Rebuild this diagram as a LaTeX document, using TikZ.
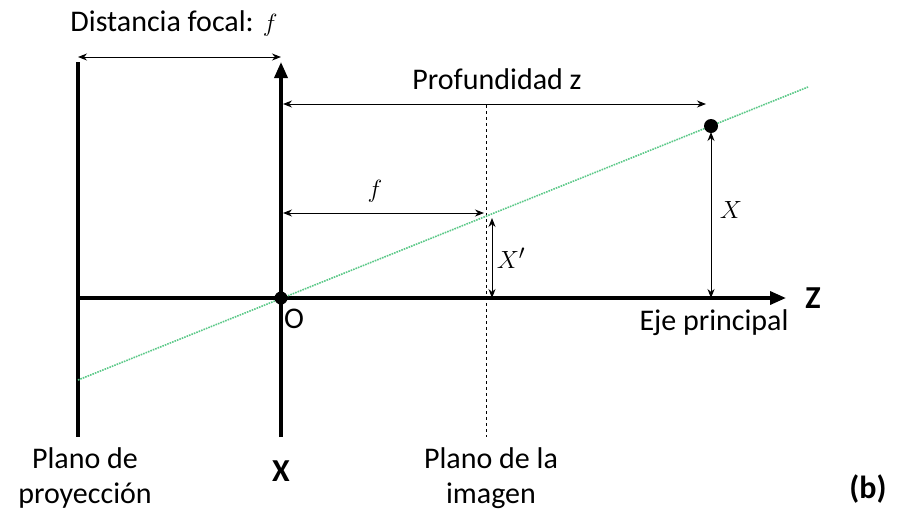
\documentclass[tikz,border=0pt]{standalone}
\usepackage{fontspec}
\setmainfont{Carlito}
\usetikzlibrary{arrows.meta,positioning,calc}
\definecolor{raygreen}{RGB}{90,200,135}

\tikzset{
    axis/.style={line width=3.5pt},
    dim/.style={{Stealth[length=9pt,width=7pt]}-{Stealth[length=9pt,width=7pt]},line width=1pt},
    lbl/.style={font=\fontsize{30}{35}\selectfont,align=center},
    bold lbl/.style={font=\fontsize{32}{36}\selectfont\bfseries}
}

\begin{document}
\begin{tikzpicture}[x=1pt,y=-1pt]
    \useasboundingbox (0,0) rectangle (899,512);
    % main points
    \coordinate (O) at (281,298);
    \coordinate (projtop) at (78,62);
    \coordinate (projbot) at (78,437);
    \coordinate (axbot) at (281,437);
    \coordinate (axtop) at (281,62);
    \coordinate (zend) at (786,298);
    \coordinate (imgtop) at (486,105);
    \coordinate (imgbot) at (486,437);
    \coordinate (P) at (711,126);
    % planes and axes
    \draw[axis] (projtop) -- (projbot);
    \draw[axis,-{Triangle[length=16pt,width=13pt]}] (axbot) -- (axtop);
    \draw[axis,-{Triangle[length=16pt,width=13pt]}] (78,298) -- (zend);
    \draw[dashed,thin] (imgtop) -- (imgbot);
    % ray through the pinhole
    \draw[raygreen,densely dotted,line width=1.6pt] (78,380) -- (808,87);
    \fill (O) circle (6.5);
    \fill (P) circle (7);
    % dimensions
    \draw[dim] (78,57) -- (281,57);
    \draw[dim] (283,104) -- (706,104);
    \draw[dim] (283,213) -- (484,213);
    \draw[dim] (492,218) -- (492,298);
    \draw[dim] (P) ++(0,6) -- (711,298);
    % labels
    \node[lbl] (dfocal) at (174,24) {Distancia focal: $f$};
    \node[lbl] (prof) at (497,79) {Profundidad z};
    \node[lbl] (flbl) at (375,191) {$f$};
    \node[lbl] (xplbl) at (511,258) {$X'$};
    \node[lbl] (xlbl) at (731,210) {$X$};
    \node[lbl] (olbl) at (294,319) {O};
    \node[lbl] (eje) at (714,323) {Eje principal};
    \node[bold lbl] (zlbl) at (813,298) {Z};
    \node[bold lbl] (xaxis) at (281,471) {X};
    \node[lbl] (proj) at (85,478) {Plano de\\proyección};
    \node[lbl] (img) at (491,478) {Plano de la\\imagen};
    \node[bold lbl] (sub) at (868,489) {(b)};
\end{tikzpicture}
\end{document}
